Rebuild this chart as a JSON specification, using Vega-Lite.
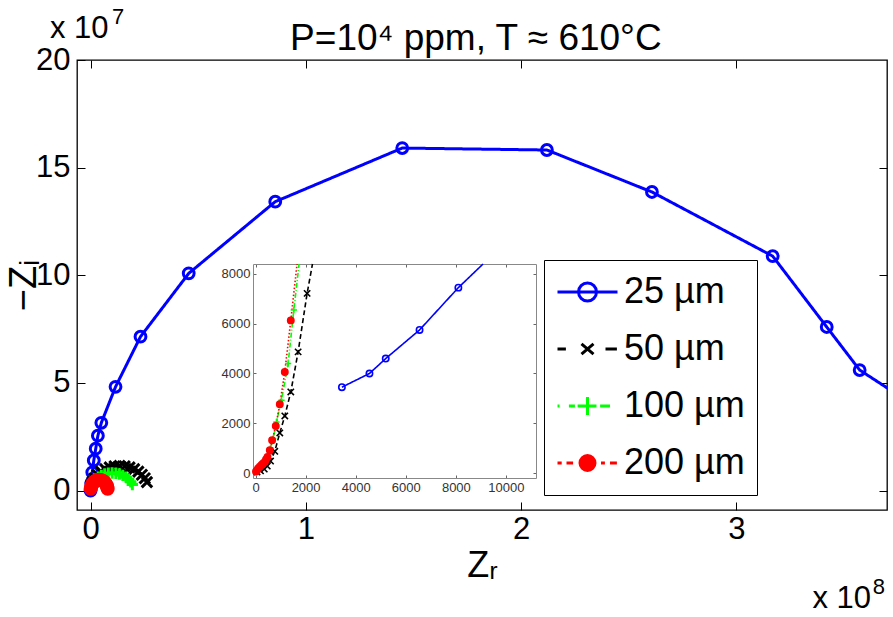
{
  "$schema": "https://vega.github.io/schema/vega-lite/v6.json",
  "width": 810,
  "height": 450,
  "autosize": {"type": "none"},
  "padding": {"left": 77, "top": 60, "right": 6, "bottom": 107},
  "background": "white",
  "config": {
    "font": "Liberation Sans",
    "view": {"stroke": "#000", "strokeWidth": 1.3},
    "axis": {
      "grid": false,
      "domain": false,
      "labelFont": "Liberation Sans",
      "titleFont": "Liberation Sans",
      "labelColor": "#000",
      "titleColor": "#000",
      "titleFontWeight": "normal",
      "tickColor": "#000"
    },
    "text": {"font": "Liberation Sans", "color": "#000"}
  },
  "datasets": {
    "main": [
      {"s": "25 µm", "zr": 0.0, "zi": 0.0},
      {"s": "25 µm", "zr": 0.003, "zi": 0.35},
      {"s": "25 µm", "zr": 0.008, "zi": 0.85},
      {"s": "25 µm", "zr": 0.015, "zi": 1.4},
      {"s": "25 µm", "zr": 0.024, "zi": 1.95},
      {"s": "25 µm", "zr": 0.034, "zi": 2.55},
      {"s": "25 µm", "zr": 0.05, "zi": 3.15},
      {"s": "25 µm", "zr": 0.116, "zi": 4.82},
      {"s": "25 µm", "zr": 0.232, "zi": 7.15},
      {"s": "25 µm", "zr": 0.456, "zi": 10.09},
      {"s": "25 µm", "zr": 0.858, "zi": 13.42},
      {"s": "25 µm", "zr": 1.448, "zi": 15.91},
      {"s": "25 µm", "zr": 2.12, "zi": 15.82},
      {"s": "25 µm", "zr": 2.608, "zi": 13.87},
      {"s": "25 µm", "zr": 3.169, "zi": 10.89},
      {"s": "25 µm", "zr": 3.42, "zi": 7.6},
      {"s": "25 µm", "zr": 3.573, "zi": 5.6},
      {"s": "25 µm", "zr": 3.75, "zi": 4.45},
      {"s": "50 µm", "zr": 0.002, "zi": 0.2},
      {"s": "50 µm", "zr": 0.0081, "zi": 0.393},
      {"s": "50 µm", "zr": 0.0181, "zi": 0.575},
      {"s": "50 µm", "zr": 0.0316, "zi": 0.739},
      {"s": "50 µm", "zr": 0.0482, "zi": 0.881},
      {"s": "50 µm", "zr": 0.0675, "zi": 0.996},
      {"s": "50 µm", "zr": 0.0888, "zi": 1.081},
      {"s": "50 µm", "zr": 0.1115, "zi": 1.133},
      {"s": "50 µm", "zr": 0.135, "zi": 1.15},
      {"s": "50 µm", "zr": 0.1585, "zi": 1.133},
      {"s": "50 µm", "zr": 0.1812, "zi": 1.081},
      {"s": "50 µm", "zr": 0.2025, "zi": 0.996},
      {"s": "50 µm", "zr": 0.2218, "zi": 0.881},
      {"s": "50 µm", "zr": 0.2384, "zi": 0.739},
      {"s": "50 µm", "zr": 0.2519, "zi": 0.575},
      {"s": "50 µm", "zr": 0.2619, "zi": 0.393},
      {"s": "100 µm", "zr": 0.0015, "zi": 0.143},
      {"s": "100 µm", "zr": 0.006, "zi": 0.28},
      {"s": "100 µm", "zr": 0.0134, "zi": 0.41},
      {"s": "100 µm", "zr": 0.0234, "zi": 0.527},
      {"s": "100 µm", "zr": 0.0357, "zi": 0.628},
      {"s": "100 µm", "zr": 0.05, "zi": 0.71},
      {"s": "100 µm", "zr": 0.0658, "zi": 0.771},
      {"s": "100 µm", "zr": 0.0826, "zi": 0.808},
      {"s": "100 µm", "zr": 0.1, "zi": 0.82},
      {"s": "100 µm", "zr": 0.1174, "zi": 0.808},
      {"s": "100 µm", "zr": 0.1342, "zi": 0.771},
      {"s": "100 µm", "zr": 0.15, "zi": 0.71},
      {"s": "100 µm", "zr": 0.1643, "zi": 0.628},
      {"s": "100 µm", "zr": 0.1766, "zi": 0.527},
      {"s": "100 µm", "zr": 0.1866, "zi": 0.41},
      {"s": "100 µm", "zr": 0.194, "zi": 0.28},
      {"s": "200 µm", "zr": 0.0006, "zi": 0.087},
      {"s": "200 µm", "zr": 0.0024, "zi": 0.171},
      {"s": "200 µm", "zr": 0.0054, "zi": 0.25},
      {"s": "200 µm", "zr": 0.0094, "zi": 0.321},
      {"s": "200 µm", "zr": 0.0143, "zi": 0.383},
      {"s": "200 µm", "zr": 0.02, "zi": 0.433},
      {"s": "200 µm", "zr": 0.0263, "zi": 0.47},
      {"s": "200 µm", "zr": 0.0331, "zi": 0.492},
      {"s": "200 µm", "zr": 0.04, "zi": 0.5},
      {"s": "200 µm", "zr": 0.0469, "zi": 0.492},
      {"s": "200 µm", "zr": 0.0537, "zi": 0.47},
      {"s": "200 µm", "zr": 0.06, "zi": 0.433},
      {"s": "200 µm", "zr": 0.0657, "zi": 0.383},
      {"s": "200 µm", "zr": 0.0706, "zi": 0.321},
      {"s": "200 µm", "zr": 0.0746, "zi": 0.25},
      {"s": "200 µm", "zr": 0.0776, "zi": 0.171},
      {"s": "200 µm", "zr": 0.0794, "zi": 0.087}
    ],
    "inset": [
      {"s": "25 µm", "ix": 3450, "iy": 3450},
      {"s": "25 µm", "ix": 4550, "iy": 4000},
      {"s": "25 µm", "ix": 5200, "iy": 4600},
      {"s": "25 µm", "ix": 6550, "iy": 5750},
      {"s": "25 µm", "ix": 8100, "iy": 7450},
      {"s": "25 µm", "ix": 9086, "iy": 8400},
      {"s": "50 µm", "ix": 60, "iy": 40},
      {"s": "50 µm", "ix": 200, "iy": 90},
      {"s": "50 µm", "ix": 350, "iy": 160},
      {"s": "50 µm", "ix": 470, "iy": 280},
      {"s": "50 µm", "ix": 600, "iy": 480},
      {"s": "50 µm", "ix": 770, "iy": 873},
      {"s": "50 µm", "ix": 970, "iy": 1610},
      {"s": "50 µm", "ix": 1170, "iy": 2294},
      {"s": "50 µm", "ix": 1409, "iy": 3260},
      {"s": "50 µm", "ix": 1702, "iy": 4869},
      {"s": "50 µm", "ix": 2061, "iy": 7219},
      {"s": "50 µm", "ix": 2275, "iy": 8400},
      {"s": "100 µm", "ix": 40, "iy": 70},
      {"s": "100 µm", "ix": 120, "iy": 160},
      {"s": "100 µm", "ix": 230, "iy": 280},
      {"s": "100 µm", "ix": 350, "iy": 420},
      {"s": "100 µm", "ix": 480, "iy": 650},
      {"s": "100 µm", "ix": 600, "iy": 1000},
      {"s": "100 µm", "ix": 704, "iy": 1384},
      {"s": "100 µm", "ix": 838, "iy": 2053},
      {"s": "100 µm", "ix": 1037, "iy": 2926},
      {"s": "100 µm", "ix": 1302, "iy": 4402},
      {"s": "100 µm", "ix": 1530, "iy": 6550},
      {"s": "100 µm", "ix": 1740, "iy": 8400},
      {"s": "200 µm", "ix": 20, "iy": 60},
      {"s": "200 µm", "ix": 60, "iy": 110},
      {"s": "200 µm", "ix": 104, "iy": 188},
      {"s": "200 µm", "ix": 170, "iy": 250},
      {"s": "200 µm", "ix": 238, "iy": 322},
      {"s": "200 µm", "ix": 300, "iy": 380},
      {"s": "200 µm", "ix": 371, "iy": 443},
      {"s": "200 µm", "ix": 420, "iy": 540},
      {"s": "200 µm", "ix": 479, "iy": 644},
      {"s": "200 µm", "ix": 571, "iy": 913},
      {"s": "200 µm", "ix": 663, "iy": 1316},
      {"s": "200 µm", "ix": 810, "iy": 1891},
      {"s": "200 µm", "ix": 970, "iy": 2764},
      {"s": "200 µm", "ix": 1170, "iy": 4064},
      {"s": "200 µm", "ix": 1409, "iy": 6133},
      {"s": "200 µm", "ix": 1659, "iy": 8400}
    ]
  },
  "resolve": {
    "scale": {"x": "independent", "y": "independent", "strokeDash": "independent", "size": "independent"}
  },
  "layer": [
    {
      "data": {"name": "main"},
      "layer": [
        {
          "mark": {"type": "line", "clip": true, "strokeWidth": 3},
          "encoding": {
            "x": {
              "field": "zr", "type": "quantitative",
              "scale": {"domain": [-0.063, 3.7], "nice": false, "zero": false},
              "axis": {"orient": "bottom", "values": [0, 1, 2, 3], "title": "Zᵣ", "titleFontSize": 36, "labelFontSize": 31, "tickSize": -8, "labelPadding": 12, "titlePadding": 4}
            },
            "y": {
              "field": "zi", "type": "quantitative",
              "scale": {"domain": [-0.9, 20], "nice": false, "zero": false},
              "axis": {"orient": "left", "values": [0, 5, 10, 15, 20], "title": "−Zᵢ", "titleFontSize": 38, "labelFontSize": 31, "tickSize": -8, "labelPadding": 15, "titlePadding": -8}
            },
            "color": {
              "field": "s", "type": "nominal",
              "scale": {"domain": ["25 µm", "50 µm", "100 µm", "200 µm"], "range": ["#0000ff", "#000000", "#00ff00", "#ff0000"]},
              "legend": {
                "orient": "none", "legendX": 467, "legendY": 200, "title": null,
                "padding": 12, "strokeColor": "#000", "fillColor": "#fff", "cornerRadius": 0,
                "symbolSize": 3600, "symbolStrokeWidth": 3, "symbolOpacity": 1,
                "symbolType": {"expr": "['M-1,0L1,0M-0.3,0A0.3,0.3 0 1 1 0.3,0A0.3,0.3 0 1 1 -0.3,0','M-1,0L-0.72,0M0.6,0L0.98,0M-0.2,-0.17L0.2,0.17M-0.2,0.17L0.2,-0.17','M-1,0L-0.93,0M-0.62,0L-0.42,0M-0.33,0L0.3,0M0.42,0L0.75,0M0,-0.3L0,0.3','M-1,0L-0.86,0M-0.7,0L-0.48,0M0.45,0L0.58,0M0.75,0L0.98,0M-0.25,0A0.25,0.25 0 1 1 0.25,0A0.25,0.25 0 1 1 -0.25,0'][datum.index]"},
                "symbolFillColor": {"expr": "datum.index === 3 ? '#ff0000' : 'transparent'"},
                "labelFont": "Liberation Sans", "labelFontSize": 36, "labelColor": "#000", "labelOffset": 5, "labelLimit": 300,
                "clipHeight": 40,
                "rowPadding": 17
              }
            },
            "strokeDash": {
              "field": "s", "type": "nominal",
              "scale": {"range": [[10, 5, 2, 5], [2, 4], [1, 0], [9, 6]]},
              "legend": null
            }
          }
        },
        {
          "mark": {"type": "point", "clip": true, "filled": false, "strokeWidth": 3, "opacity": 1},
          "encoding": {
            "x": {"field": "zr", "type": "quantitative", "axis": {"orient": "top", "values": [0, 1, 2, 3], "labels": false, "title": null, "tickSize": -8}},
            "y": {"field": "zi", "type": "quantitative", "axis": {"orient": "right", "values": [0, 5, 10, 15], "labels": false, "title": null, "tickSize": -8}},
            "color": {"field": "s", "type": "nominal", "legend": null},
            "shape": {
              "field": "s", "type": "nominal",
              "scale": {"range": ["M-1,0L1,0M0,-1L0,1", "circle", "circle", "M-1,-1L1,1M-1,1L1,-1"]},
              "legend": null
            },
            "fill": {
              "field": "s", "type": "nominal",
              "scale": {"range": ["transparent", "#ff0000", "transparent", "transparent"]},
              "legend": null
            },
            "size": {
              "field": "s", "type": "nominal",
              "scale": {"range": [130, 110, 270, 100]},
              "legend": null
            }
          }
        },
        {
          "data": {"values": [{}]},
          "mark": {"type": "text", "align": "center", "baseline": "alphabetic", "dy": -10, "fontSize": 37},
          "encoding": {
            "x": {"datum": 1.79, "type": "quantitative", "axis": null},
            "y": {"datum": 20, "type": "quantitative", "axis": null},
            "text": {"value": "P=10⁴ ppm, T ≈ 610°C"}
          }
        },
        {
          "data": {"values": [{}]},
          "mark": {"type": "text", "align": "left", "baseline": "alphabetic", "dx": -27, "dy": -22, "fontSize": 31},
          "encoding": {
            "x": {"datum": -0.063, "type": "quantitative", "axis": null},
            "y": {"datum": 20, "type": "quantitative", "axis": null},
            "text": {"value": "x 10"}
          }
        },
        {
          "data": {"values": [{}]},
          "mark": {"type": "text", "align": "left", "baseline": "alphabetic", "dx": 35, "dy": -36, "fontSize": 22},
          "encoding": {
            "x": {"datum": -0.063, "type": "quantitative", "axis": null},
            "y": {"datum": 20, "type": "quantitative", "axis": null},
            "text": {"value": "7"}
          }
        },
        {
          "data": {"values": [{}]},
          "mark": {"type": "text", "align": "right", "baseline": "alphabetic", "dx": -16, "dy": 98, "fontSize": 31},
          "encoding": {
            "x": {"datum": 3.7, "type": "quantitative", "axis": null},
            "y": {"datum": -0.9, "type": "quantitative", "axis": null},
            "text": {"value": "x 10"}
          }
        },
        {
          "data": {"values": [{}]},
          "mark": {"type": "text", "align": "right", "baseline": "alphabetic", "dx": -2, "dy": 84, "fontSize": 22},
          "encoding": {
            "x": {"datum": 3.7, "type": "quantitative", "axis": null},
            "y": {"datum": -0.9, "type": "quantitative", "axis": null},
            "text": {"value": "8"}
          }
        }
      ]
    },
    {
      "data": {"name": "inset"},
      "layer": [
        {
          "mark": {"type": "line", "strokeWidth": 1.6},
          "encoding": {
            "x": {
              "field": "ix", "type": "quantitative",
              "scale": {"domain": [-100, 11200], "range": [176, 459], "nice": false, "zero": false},
              "axis": {"orient": "bottom", "offset": -32, "values": [0, 2000, 4000, 6000, 8000, 10000], "format": "d", "title": null, "labelFontSize": 13, "labelColor": "#333", "tickSize": -3, "tickColor": "#666", "domain": true, "domainColor": "#888", "domainWidth": 1, "labelPadding": 6}
            },
            "y": {
              "field": "iy", "type": "quantitative",
              "scale": {"domain": [-200, 8400], "range": [418, 204], "nice": false, "zero": false},
              "axis": {"orient": "left", "offset": -176, "values": [0, 2000, 4000, 6000, 8000], "format": "d", "title": null, "labelFontSize": 13, "labelColor": "#333", "tickSize": -3, "tickColor": "#666", "domain": true, "domainColor": "#888", "domainWidth": 1, "labelPadding": 6}
            },
            "color": {"field": "s", "type": "nominal", "legend": null},
            "strokeDash": {
              "field": "s", "type": "nominal",
              "scale": {"range": [[5, 2, 1, 2], [1.5, 2], [1, 0], [5, 3]]},
              "legend": null
            }
          }
        },
        {
          "transform": [{"filter": "datum.iy < 8400"}],
          "mark": {"type": "point", "filled": false, "strokeWidth": 1.6, "opacity": 1},
          "encoding": {
            "x": {"field": "ix", "type": "quantitative", "axis": {"orient": "top", "offset": -204, "values": [0, 2000, 4000, 6000, 8000, 10000], "labels": false, "title": null, "tickSize": -3, "tickColor": "#666", "domain": true, "domainColor": "#888", "domainWidth": 1}},
            "y": {"field": "iy", "type": "quantitative", "axis": {"orient": "right", "offset": -351, "values": [0, 2000, 4000, 6000, 8000], "labels": false, "title": null, "tickSize": -3, "tickColor": "#666", "domain": true, "domainColor": "#888", "domainWidth": 1}},
            "color": {"field": "s", "type": "nominal", "legend": null},
            "shape": {"field": "s", "type": "nominal", "legend": null},
            "fill": {"field": "s", "type": "nominal", "legend": null},
            "size": {
              "field": "s", "type": "nominal",
              "scale": {"range": [40, 40, 80, 30]},
              "legend": null
            }
          }
        }
      ]
    }
  ]
}
